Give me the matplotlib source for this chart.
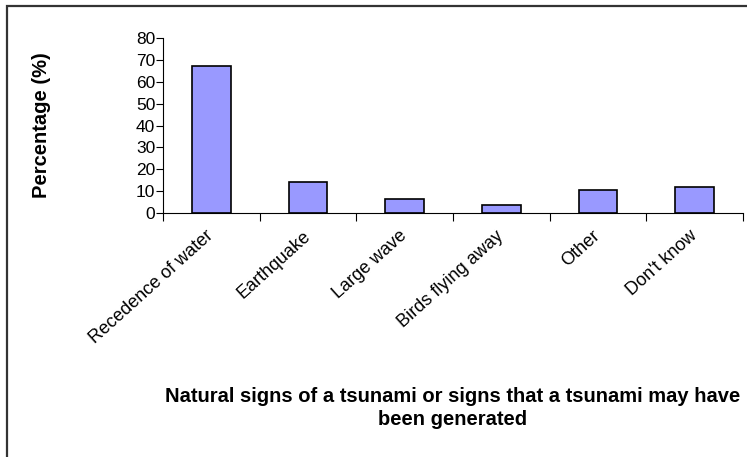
import matplotlib.pyplot as plt
from matplotlib.patches import Rectangle
from matplotlib.ticker import FixedLocator

categories = ['Recedence of water', 'Earthquake', 'Large wave',
              'Birds flying away', 'Other', "Don't know"]
values = [67, 14.2, 6.4, 3.5, 10.7, 12.1]

plt.rcParams['font.family'] = ['Liberation Sans', 'DejaVu Sans']

fig = plt.figure(figsize=(7.47, 4.57), dpi=100)
W, H = 747, 457
ax = fig.add_axes([163 / W, 1 - 213 / H, (743 - 163) / W, (213 - 38) / H])

# outer frame (only top and left edges visible in the reference)
fig.patches.append(Rectangle((7 / W, -0.1), 1.2, 1 - 6 / H + 0.1,
                             transform=fig.transFigure, fill=False,
                             edgecolor='#333333', linewidth=1.6))

x = range(len(categories))
ax.bar(x, values, width=0.4, color='#9999ff', edgecolor='black', linewidth=1.2)

ax.set_xlim(-0.5, len(categories) - 0.5)
ax.set_ylim(0, 80)
ax.set_yticks(range(0, 81, 10))
ax.tick_params(axis='y', labelsize=12.5, length=5, width=0.8, pad=0.5)

ax.set_xticks(list(x))
ax.set_xticklabels(categories, rotation=42, ha='right', va='center',
                   rotation_mode='anchor', fontsize=13)
ax.tick_params(axis='x', length=0, pad=15)
ax.xaxis.set_minor_locator(FixedLocator([i - 0.5 for i in range(len(categories) + 1)]))
ax.tick_params(axis='x', which='minor', length=6, width=0.8, direction='out')

for s in ['top', 'right']:
    ax.spines[s].set_visible(False)
ax.spines['left'].set_linewidth(0.8)
ax.spines['bottom'].set_linewidth(0.8)

fig.text(42 / W, 1 - 125.5 / H, 'Percentage (%)', rotation=90,
         ha='center', va='center', fontsize=14.5, fontweight='bold')
fig.text((163 + 743) / 2 / W, 1 - 408 / H,
         'Natural signs of a tsunami or signs that a tsunami may have\nbeen generated',
         ha='center', va='center', fontsize=14.5, fontweight='bold', linespacing=1.3)

fig.savefig('out.png', dpi=100)
